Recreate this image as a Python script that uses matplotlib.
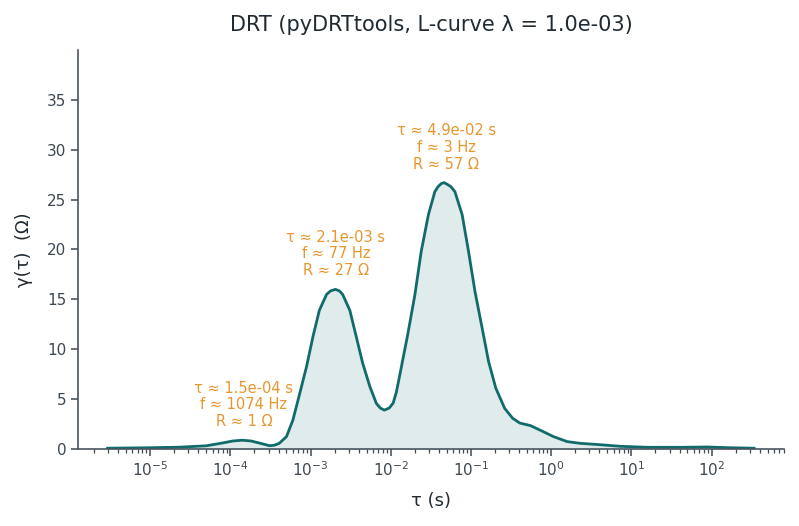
import matplotlib
matplotlib.use("Agg")
import numpy as np
import matplotlib.pyplot as plt

# DRT curve: log10(tau / s) and gamma (Ohm)
log_tau = [-5.53, -5.05, -4.64, -4.30, -4.10, -3.97, -3.85, -3.74, -3.64, -3.51,
           -3.45, -3.39, -3.30, -3.22, -3.14, -3.05, -2.97, -2.89, -2.80, -2.75,
           -2.69, -2.64, -2.60, -2.51, -2.43, -2.35, -2.26, -2.18, -2.13, -2.08,
           -2.02, -1.97, -1.93, -1.89, -1.79, -1.70, -1.62, -1.53, -1.45, -1.41,
           -1.37, -1.335, -1.30, -1.25, -1.20, -1.11, -1.03, -0.95, -0.86, -0.78,
           -0.69, -0.58, -0.48, -0.39, -0.26, -0.14, 0.03, 0.20, 0.36, 0.61,
           0.86, 1.20, 1.61, 1.95, 2.20, 2.53]
gamma = [0.08, 0.12, 0.18, 0.32, 0.60, 0.80, 0.88, 0.80, 0.60, 0.33,
         0.38, 0.57, 1.24, 2.9, 5.4, 8.25, 11.26, 13.9, 15.5, 15.85,
         16.0, 15.85, 15.5, 13.9, 11.26, 8.6, 6.25, 4.58, 4.1, 3.9,
         4.1, 4.6, 5.7, 7.3, 11.4, 15.4, 19.8, 23.5, 25.8, 26.3,
         26.6, 26.7, 26.55, 26.3, 25.8, 23.5, 19.8, 15.8, 12.1, 8.76,
         6.1, 4.08, 3.08, 2.6, 2.35, 1.9, 1.24, 0.74, 0.57, 0.43,
         0.27, 0.17, 0.17, 0.20, 0.13, 0.08]

# peaks found in the DRT
peak_tau = [1.48e-4, 2.07e-3, 4.9e-2]
peak_gamma = [0.88, 16.0, 26.7]
peak_labels = [
    "τ ≈ 1.5e-04 s\nf ≈ 1074 Hz\nR ≈ 1 Ω",
    "τ ≈ 2.1e-03 s\nf ≈ 77 Hz\nR ≈ 27 Ω",
    "τ ≈ 4.9e-02 s\nf ≈ 3 Hz\nR ≈ 57 Ω",
]

line_col = "#106b6a"
ann_col = "#e8962e"
txt_col = "#1f2a33"
tick_col = "#3d4852"

tau = 10 ** np.array(log_tau)

fig = plt.figure(figsize=(7.99, 5.26), dpi=100)
ax = fig.add_axes([0.0976, 0.1464, 0.8836, 0.7586])

ax.fill_between(tau, gamma, 0, color=line_col, alpha=0.13, linewidth=0)
ax.plot(tau, gamma, color=line_col, linewidth=2.0, solid_joinstyle="round")

for t, g, lab in zip(peak_tau, peak_gamma, peak_labels):
    ax.annotate(lab, xy=(t, g), xytext=(0, 8), textcoords="offset points",
                ha="center", va="bottom", fontsize=10.5, color=ann_col,
                linespacing=1.15)

ax.set_xscale("log")
ax.set_xlim(1.26e-6, 8e2)
ax.set_ylim(0, 40)
ax.set_yticks(range(0, 40, 5))

ax.set_title("DRT (pyDRTtools, L-curve λ = 1.0e-03)", fontsize=15,
             color=txt_col, pad=14)
ax.set_xlabel("τ (s)", fontsize=13, color=txt_col, labelpad=9)
ax.set_ylabel("γ(τ)  (Ω)", fontsize=13, color=txt_col, labelpad=10)

for s in ["top", "right"]:
    ax.spines[s].set_visible(False)
for s in ["left", "bottom"]:
    ax.spines[s].set_color("#4a5560")
    ax.spines[s].set_linewidth(1.2)

ax.tick_params(axis="both", which="major", labelsize=11, colors=tick_col,
               length=5, width=1.1)
ax.tick_params(axis="x", which="minor", colors=tick_col, length=3, width=0.9)

fig.savefig("out.png", dpi=100)
